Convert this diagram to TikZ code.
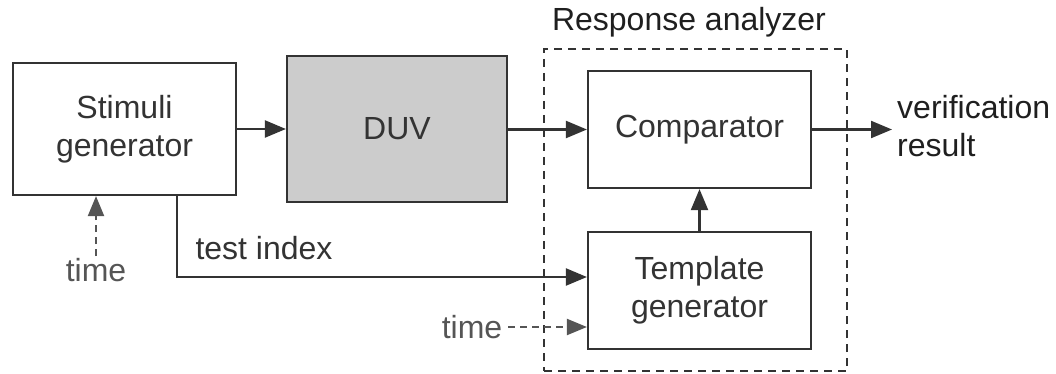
\documentclass[tikz,border=0pt]{standalone}
\usepackage{fontspec}
\setmainfont{Liberation Sans}
\usetikzlibrary{arrows.meta}
\definecolor{ink}{HTML}{333333}
\definecolor{soft}{HTML}{555555}
\definecolor{duvfill}{HTML}{CCCCCC}
\tikzset{
  block/.style={draw=ink, line width=2.2pt, minimum width=223pt, minimum height=117pt,
    align=center, text=ink, inner sep=0pt},
  wire/.style={draw=ink, line width=2.2pt, -{Triangle[length=21pt,width=17pt]}},
  timewire/.style={draw=soft, line width=2.2pt, dash pattern=on 7pt off 5pt,
    -{Triangle[length=20pt,width=16pt]}},
  lbl/.style={text=ink, inner sep=0pt},
  timelbl/.style={text=soft, inner sep=0pt},
  every node/.style={font=\fontsize{32}{38}\selectfont}
}
\begin{document}
\begin{tikzpicture}[x=1pt,y=-1pt]
\useasboundingbox (0,0) rectangle (1056,374);

% response analyzer frame and title
\node[draw=ink, line width=2pt, dash pattern=on 8pt off 6pt,
      minimum width=303pt, minimum height=322pt, inner sep=0pt] (ra) at (695.5,210) {};
\node[lbl, text=black!88] (ratitle) at (689,22) {Response analyzer};

% blocks
\node[block, minimum height=132pt] (stim) at (124.5,129) {Stimuli\\generator};
\node[block, fill=duvfill, minimum width=220pt, minimum height=146pt] (duv) at (397,129) {DUV};
\node[block] (comp) at (699.5,129.5) {Comparator};
\node[block] (tmpl) at (699.5,290.5) {Template\\generator};

% output
\coordinate (outend) at (892,129.5);
\node[lbl, text=black!88, anchor=west, align=left] (res) at (897,126) {verification\\result};

% signal flow
\draw[wire] (stim.east) -- (stim.east -| duv.west);
\draw[wire] (duv.east |- comp.west) -- (comp.west);
\draw[wire] (comp.east) -- (outend);
\draw[wire] (tmpl.north) -- (comp.south);

% test index path
\coordinate (tix) at (177,0);
\draw[wire] (stim.south -| tix) |- ([yshift=13.5pt]tmpl.west);
\node[lbl] (tidx) at (264,248) {test index};

% time inputs
\node[timelbl] (t1) at (96,270) {time};
\draw[timewire] ([yshift=2pt]t1.north) -- (t1.north |- stim.south);
\node[timelbl] (t2) at (472,327) {time};
\draw[timewire] ([xshift=6pt]t2.east) -- (t2.east -| tmpl.west);
\end{tikzpicture}
\end{document}
